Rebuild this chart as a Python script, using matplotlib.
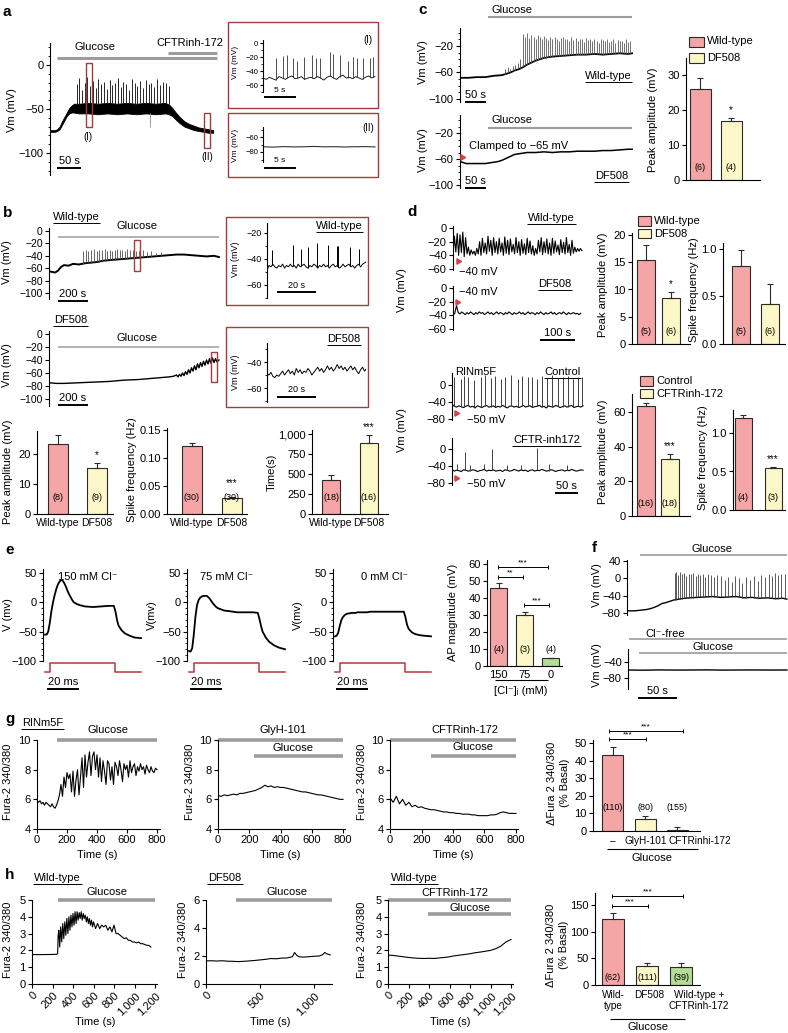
import numpy as np
import matplotlib.pyplot as plt
from matplotlib.patches import Rectangle

plt.rcParams['font.family'] = ['Liberation Sans', 'DejaVu Sans']
plt.rcParams['axes.linewidth'] = 0.8
plt.rcParams['xtick.major.width'] = 0.8
plt.rcParams['ytick.major.width'] = 0.8

W, H = 788, 1033

PINK = '#f5a5a5'
YELLOW = '#fbf7c6'
GREEN = '#b4dc96'
EDGE = '#2b2b2b'
GLU = '#9c9c9c'
BOXRED = '#a33c3c'
PULSE = '#b5383a'
ARROW = '#d04545'

# ---------------- values ----------------
# a: glucose-induced firing (s, mV), band drawn between lo/hi
a_t = [0, 10, 15, 20, 25, 30, 35, 40, 45, 50, 60, 80, 100, 120, 140, 160, 180, 200, 220, 240,
       248, 255, 262, 270, 280, 290, 300, 310, 320, 330, 340]
a_hi = [-74, -74, -73, -70, -64, -59, -54, -49, -46, -44, -44, -43, -44, -43, -44, -43, -44, -43, -44, -43,
        -45, -49, -54, -59, -64, -67, -69, -71, -72, -73, -74]
a_lo = [-76, -76, -75, -73, -68, -63, -58, -55, -54, -54, -55, -55, -56, -55, -56, -55, -56, -55, -56, -55,
        -56, -58, -62, -66, -70, -72, -74, -75, -76, -77, -77]
a_spk_t = [57, 61, 66, 72, 78, 84, 90, 96, 101, 107, 113, 119, 124, 130, 136, 142, 147, 153, 159, 165,
           171, 177, 182, 188, 194, 200, 206, 211, 217, 223, 229, 235, 241, 247]
a_spk_v = [-22, -15, -28, -20, -14, -24, -18, -26, -16, -22, -19, -27, -17, -23, -20, -15, -25, -19, -22, -28,
           -16, -21, -24, -18, -26, -17, -22, -20, -25, -16, -23, -19, -21, -24]
a_glitch = (208, -70)
# a insets (I) and (II)
i1_v = [-50, -52, -49, -51, -53, -48, -50, -52, -49, -47, -51, -50, -48, -52, -50, -49, -51, -48, -50, -53,
        -49, -47, -50, -52, -48, -46, -50, -49, -51, -48, -50, -52, -49, -47, -50, -48]
i1_spk_t = [2.0, 3.1, 3.8, 4.7, 5.3, 6.4, 7.7, 8.3, 8.9, 10.5, 10.9, 12.0, 13.3, 14.1, 14.7, 15.6, 16.7, 17.2]
i1_spk_v = [-22, -18, -17, -22, -25, -20, -17, -22, -21, -13, -15, -17, -25, -20, -22, -22, -22, -20]
i2_v = [-73, -73.5, -72.8, -73.2, -73, -72.6, -73.1, -72.9, -73.3, -73, -72.8, -73.2]

# b: wild-type and DF508 traces
bw_t = [0, 20, 40, 60, 80, 100, 130, 160, 200, 240, 280, 320, 360, 400, 450, 500, 550, 600, 650, 700,
        750, 800, 850, 900, 950, 1000, 1050, 1100, 1133]
bw_v = [-65, -66, -67, -64, -58, -55, -56, -53, -54, -52, -51, -50, -48, -47, -46, -45, -44, -43, -42, -41,
        -40, -39, -38, -38, -39, -40, -41, -40, -42]
bw_spk_t = [228, 245, 262, 280, 300, 318, 335, 352, 370, 388, 405, 420, 438, 455, 470, 488, 505, 520, 540, 560,
            580, 600, 625, 650, 680, 710, 745]
bw_spk_v = [-32, -30, -33, -31, -29, -32, -30, -31, -29, -33, -30, -32, -30, -29, -31, -30, -32, -29, -31, -30,
            -32, -33, -31, -34, -33, -35, -34]
bwi_v = [-49, -45, -46, -44, -46, -47, -45, -46, -44, -47, -45, -46, -44, -46, -45, -47, -44, -46, -45, -44,
         -46, -47, -45, -46, -44, -45, -47, -45, -46, -44, -46, -45, -47, -45, -44, -46, -45, -47, -46, -44,
         -46, -45, -44, -46, -45, -47, -45, -44, -46, -44, -43, -42]
bwi_spk_t = [2.6, 13.3, 17.4, 21.0, 25.6, 31.3, 35.9, 36.4, 42.6, 47.2]
bwi_spk_v = [-33, -29, -32, -31, -28, -29, -30, -30, -31, -32]
bd_t = [0, 50, 100, 200, 300, 400, 500, 600, 700, 750, 800, 830, 850, 860, 870, 880, 890, 900, 910, 920,
        930, 940, 950, 960, 970, 980, 990, 1000, 1010, 1020, 1030, 1040, 1050, 1060, 1070, 1080, 1090, 1100,
        1110, 1120, 1133]
bd_v = [-75, -76, -76, -75, -74, -73, -71, -70, -68, -67, -66, -65, -63, -66, -62, -65, -60, -64, -58, -62,
        -55, -60, -52, -57, -49, -55, -46, -52, -44, -50, -42, -48, -40, -46, -38, -45, -37, -44, -38, -43,
        -40]
bdi_v = [-49, -50, -48, -51, -52, -50, -51, -49, -47, -50, -48, -46, -49, -47, -50, -45, -48, -46, -49, -47,
         -48, -45, -47, -50, -48, -46, -44, -47, -45, -48, -46, -43, -46, -44, -47, -45, -42, -45, -43, -46,
         -44, -47, -45, -43, -46, -44, -47, -49, -46, -44, -47, -45]
# b: bar summaries
b_amp, b_amp_err = [23.5, 15.3], [2.7, 1.7]
b_freq, b_freq_err = [0.122, 0.029], [0.005, 0.002]
b_time, b_time_err = [420, 890], [70, 100]

# c: wild-type and clamped DF508 traces
ct_t = [0, 20, 40, 60, 80, 100, 110, 120, 130, 140, 150, 160, 170, 180, 190, 200, 220, 240, 260, 280,
        300, 320, 340, 360, 380, 400, 410]
ct_v = [-68, -68, -67, -67, -65, -64, -62, -60, -57, -55, -52, -48, -45, -42, -40, -38, -36, -35, -34, -33,
        -33, -32, -33, -32, -31, -32, -31]
ct_pre_t = [108, 114, 120, 126, 132, 138, 143]
ct_pre_v = [-55, -52, -54, -50, -48, -46, -40]
ct_spk_t = [150, 155, 160, 165, 170, 175, 180, 185, 190, 195, 200, 205, 210, 215, 220, 225, 230, 235, 240, 245,
            250, 255, 260, 265, 270, 275, 280, 285, 290, 295, 300, 305, 310, 315, 320, 325, 330, 335, 340, 345,
            350, 355, 360, 365, 370, 375, 380, 385, 390, 395, 400, 405]
ct_spk_v = [-2, -6, 0, -8, -4, -6, -10, -3, -7, -9, -5, -8, -11, -6, -9, -7, -10, -12, -8, -6,
            -10, -9, -13, -7, -11, -8, -12, -10, -9, -14, -8, -11, -10, -13, -9, -12, -15, -10, -11, -13,
            -9, -14, -12, -10, -15, -11, -13, -12, -16, -10, -14, -12]
cb_t = [0, 10, 15, 20, 40, 60, 70, 80, 90, 100, 110, 120, 130, 140, 150, 160, 180, 200, 220, 240,
        260, 280, 300, 320, 340, 360, 380, 400, 410]
cb_v = [-64, -66, -67, -67, -67, -67, -66, -65, -64, -62, -59, -56, -53, -52, -51, -50, -50, -49, -50, -49,
        -49, -48, -48, -48, -47, -47, -46, -45, -45]
c_amp, c_amp_err = [26.0, 16.8], [3.2, 1.0]

# d: traces sampled every 4 s / 5 s
dw_v = [-38, -12, -35, -8, -40, -10, -36, -6, -42, -14, -38, -28, -40, -32, -38, -34, -40, -30, -38, -20,
        -40, -15, -36, -22, -38, -12, -34, -18, -40, -14, -36, -20, -38, -15, -35, -22, -40, -13, -37, -18,
        -39, -16, -35, -24, -38, -14, -36, -20, -40, -17, -37, -23, -39, -15, -36, -19, -38, -26, -40, -30,
        -38, -18, -35, -14, -39, -20, -36, -16, -38, -22, -40, -15, -37, -19, -35, -25, -39, -17, -36, -21,
        -38, -14, -36, -24, -40, -18, -37, -28, -35, -30, -34, -30, -33]
dd_v = [-40, -37, -26, -36, -38, -35, -37, -39, -36, -38, -35, -37, -39, -36, -38, -35, -37, -36, -39, -37,
        -35, -38, -36, -39, -37, -35, -38, -36, -37, -39, -36, -38, -35, -37, -39, -36, -38, -37, -35, -38,
        -36, -39, -37, -35, -38, -36, -37, -39, -36, -38, -35, -37, -39, -36, -38, -37, -35, -38, -36, -39,
        -37, -36, -38, -35, -37, -39, -36, -38, -37, -36, -38, -37, -39, -37]
rc_v = [-45, -50, -52, -49, -51, -53, -50, -48, -52, -50, -54, -49, -51, -53, -50, -48, -52, -51, -49, -53,
        -50, -52, -48, -51, -54, -50, -49, -52, -50, -53, -51, -48, -52, -50, -49, -53, -51, -50, -48, -52,
        -50, -54, -49, -51, -52, -48, -50, -53, -51, -49, -52, -50, -48, -53, -51, -50, -52, -49]
rc_spk_t = [4, 20, 26, 35, 48, 63, 72, 85, 93, 107, 115, 128, 143, 152, 165, 174, 185, 196, 207, 217,
            230, 241, 252, 263, 274, 283]
rc_spk_v = [20, 15, 22, 18, 12, 20, 24, 16, 21, 14, 19, 23, 15, 22, 18, 20, 13, 21, 17, 24,
            16, 19, 22, 14, 20, 18]
ci_v = [-48, -52, -50, -51, -53, -49, -50, -52, -51, -49, -50, -53, -51, -50, -48, -52, -50, -51, -49, -52,
        -51, -50, -53, -49, -50, -52, -51, -48, -50, -52, -49, -51, -50, -53, -50, -49, -52, -50, -51, -48,
        -50, -52, -51, -49, -50, -53, -51, -50, -49, -52, -50, -51, -48, -50, -52, -51, -49, -50]
ci_spk_t = [10, 28, 40, 70, 87, 120, 150, 185, 210, 250]
ci_spk_v = [-35, -8, -38, -36, 0, -37, -38, 3, -36, -37]
d_amp, d_amp_err = [15.4, 8.4], [2.8, 1.2]
d_freq, d_freq_err = [0.82, 0.42], [0.17, 0.21]
d_amp2, d_amp2_err = [63.5, 33.0], [1.5, 2.5]
d_freq2, d_freq2_err = [1.20, 0.54], [0.04, 0.02]

# e: action potentials (ms, mV) and the current step
e_t = [0, 1, 2, 3, 4, 5, 6, 7, 8, 9, 10, 11, 12, 13, 14, 15, 16, 17, 18, 20,
       22, 25, 30, 35, 40, 43, 44, 45, 46, 48, 50, 53, 56, 60]
e1_v = [-55, -55, -50, -35, -15, 0, 12, 22, 30, 35, 38, 37, 33, 27, 20, 14, 9, 4, 0, -3,
        -5, -7, -8, -7, -6, -6, -15, -30, -40, -48, -53, -57, -60, -61]
e2_v = [-83, -84, -78, -55, -25, -5, 4, 8, 10, 11, 11, 11, 9, 6, 2, -2, -5, -8, -10, -12,
        -14, -15, -17, -17, -17, -18, -28, -40, -50, -60, -67, -73, -77, -80]
e3_v = [-58, -57, -52, -40, -30, -25, -22, -20, -19, -19, -18, -18, -18, -18, -17, -17, -17, -17, -17, -17,
        -16, -16, -16, -16, -16, -16, -25, -38, -45, -51, -54, -56, -57, -58]
e_pulse_t = [0, 3, 3, 44, 44, 60]
e_ap, e_ap_err = [46, 30, 4.5], [3, 2, 0.5]

# f
ft_t = [0, 10, 15, 20, 25, 30, 35, 40, 45, 50, 55, 60, 70, 80, 90, 100, 110, 120, 130, 140,
        150, 160, 170, 180, 190, 200, 205]
ft_v = [-75, -75, -74, -73, -72, -70, -67, -63, -58, -56, -53, -50, -47, -45, -44, -43, -42, -44, -43, -42,
        -45, -44, -46, -45, -47, -46, -48]
f_spk_t = [61, 63, 66, 68, 71, 73, 76, 79, 82, 85, 88, 91, 94, 97, 100, 104, 108, 112, 116, 120,
           125, 130, 134, 139, 144, 148, 153, 158, 163, 168, 172, 177, 182, 186, 190, 194, 198, 202]
f_spk_v = [12, 15, 8, 14, 10, 13, 6, 11, 9, 12, 5, 10, 8, 11, 4, 9, 7, 3, 8, 6,
           -5, 2, -8, 5, 0, -10, 4, -3, 6, -6, 8, 2, 10, 5, 12, 8, 10, 9]
fb_v = [-60, -60.5, -59.8, -60.2, -60, -59.7, -60.3, -60, -59.9, -60.1, -60]

# g: Fura-2 ratio (every 10 s for g1, 20 s for g2/g3)
g1_v = [5.9, 5.8, 5.9, 5.7, 5.8, 5.6, 5.8, 5.7, 5.6, 5.5, 5.7, 5.5, 5.4, 5.6, 5.9, 6.3, 7.0, 6.2, 7.5, 6.8,
        7.8, 7.4, 7.7, 6.5, 7.9, 6.2, 7.3, 8.0, 6.3, 7.5, 8.8, 6.8, 9.0, 7.5, 8.5, 9.2, 7.6, 8.9, 9.2, 8.0,
        9.0, 7.5, 8.8, 7.2, 8.6, 7.9, 7.0, 8.6, 8.4, 7.3, 8.2, 7.0, 8.5, 8.2, 7.6, 8.6, 8.0, 7.2, 8.4, 8.0,
        8.3, 7.5, 8.6, 7.8, 8.2, 8.4, 7.6, 8.2, 7.9, 8.4, 8.0, 8.2, 7.7, 8.3, 8.0, 7.8, 8.2, 7.9, 7.8, 8.1,
        8.0]
g2_v = [6.25, 6.2, 6.3, 6.25, 6.3, 6.35, 6.3, 6.4, 6.4, 6.45, 6.5, 6.55, 6.6, 6.7, 6.8, 6.95, 6.85, 6.9, 6.8, 6.85,
        6.8, 6.8, 6.75, 6.7, 6.65, 6.6, 6.55, 6.5, 6.5, 6.45, 6.4, 6.35, 6.3, 6.3, 6.25, 6.2, 6.15, 6.1, 6.05, 6.0,
        6.0]
g3_v = [6.1, 5.8, 6.2, 5.7, 6.0, 5.6, 5.8, 5.5, 5.6, 5.45, 5.5, 5.4, 5.35, 5.3, 5.3, 5.25, 5.2, 5.15, 5.15, 5.1,
        5.1, 5.05, 5.05, 5.0, 5.0, 5.0, 4.95, 4.95, 4.9, 4.9, 4.9, 4.9, 4.95, 4.95, 5.0, 5.1, 5.15, 5.1, 5.05, 5.05,
        5.05]
g_bar, g_bar_err = [43, 7, 0.5], [4.5, 1.5, 1.5]
g_cats = ['–', 'GlyH-101', 'CFTRinhi-172']

# h
h1_t = [0, 100, 200, 240, 250, 255, 262, 270, 280, 290, 300, 310, 320, 330, 340, 350, 360, 370, 380, 390,
        400, 410, 420, 430, 440, 450, 460, 470, 480, 490, 500, 510, 520, 530, 540, 550, 560, 570, 580, 590,
        600, 620, 640, 660, 680, 700, 720, 740, 760, 780, 800, 820, 840, 860, 880, 900, 920, 940, 960, 980,
        1000, 1020, 1040, 1060, 1080, 1100, 1120, 1140, 1160]
h1_v = [1.75, 1.75, 1.76, 1.77, 1.8, 2.9, 3.2, 2.2, 3.4, 2.5, 3.6, 2.7, 3.7, 2.9, 3.9, 3.0, 4.0, 3.2, 4.1, 3.4,
        4.2, 3.5, 4.3, 3.6, 4.3, 3.8, 4.25, 3.9, 4.3, 3.8, 4.2, 3.9, 4.1, 3.7, 4.0, 3.6, 3.9, 3.5, 3.8, 3.4,
        3.7, 3.3, 3.6, 3.3, 3.5, 3.4, 3.5, 3.2, 3.4, 3.1, 3.5, 3.0, 3.0, 2.9, 2.8, 2.7, 2.75, 2.6, 2.6, 2.5,
        2.5, 2.45, 2.5, 2.4, 2.4, 2.35, 2.3, 2.3, 2.2]
h2_t = [0, 50, 100, 150, 200, 250, 300, 350, 400, 450, 500, 550, 600, 650, 700, 750, 800, 820, 840, 860,
        900, 950, 1000, 1050, 1080, 1100, 1120, 1150]
h2_v = [1.65, 1.66, 1.64, 1.66, 1.63, 1.62, 1.6, 1.62, 1.65, 1.68, 1.72, 1.76, 1.82, 1.8, 1.85, 1.86, 1.95, 2.25,
        2.05, 1.95, 1.92, 1.95, 1.98, 2.0, 2.1, 2.25, 2.15, 2.08]
h3_v = [1.72, 1.7, 1.66, 1.62, 1.58, 1.55, 1.53, 1.52, 1.53, 1.52, 1.55, 1.58, 1.62, 1.68, 1.72, 1.76, 1.8, 1.86,
        1.9, 1.95, 2.0, 2.1, 2.25, 2.5, 2.65]
h_bar, h_bar_err = [124, 35, 34], [11, 6, 8]
h_cats = ['Wild-\ntype', 'DF508', 'Wild-type +\nCFTRinh-172']


# ---------------- helpers ----------------
def lin(p0, v0, p1, v1, p):
    # linear map from one reference pair to another
    return v0 + (p - p0) * (v1 - v0) / (p1 - p0)


def vpx(cal, v):
    # value -> pixel for a (px0, v0, px1, v1) calibration
    return lin(cal[1], cal[0], cal[3], cal[2], v)


fig = plt.figure(figsize=(W / 100, H / 100), dpi=100)


def add_ax(l, t, r, b, xcal, ycal):
    ax = fig.add_axes([l / W, 1 - b / H, (r - l) / W, (b - t) / H])
    ax.set_xlim(lin(*xcal, l), lin(*xcal, r))
    ax.set_ylim(lin(*ycal, b), lin(*ycal, t))
    ax.patch.set_visible(False)
    return ax


def trace_ax(box, xcal, ycal, ticks, minor=None, bounds=None, size=8):
    ax = add_ax(*box, xcal, ycal)
    for s in ['top', 'right', 'bottom']:
        ax.spines[s].set_visible(False)
    ax.set_xticks([])
    ax.set_yticks(ticks)
    if minor is not None:
        ax.set_yticks(minor, minor=True)
    if bounds is not None:
        ax.spines['left'].set_bounds(*bounds)
    small = size < 7
    ax.tick_params(axis='y', which='major', labelsize=size, length=2 if small else 3, pad=1.5)
    ax.tick_params(axis='y', which='minor', length=1.2 if small else 1.8, width=0.6)
    return ax


def spikes(ax, t, v, bt, bv, color='k', lw=0.6):
    ax.vlines(t, np.interp(t, bt, bv), v, colors=color, lw=lw)


def bar_ax(box, centers, ycal, yticks, vals, errs, colors, ns, width, n_px=14,
           yticklabels=None, xticklabels=None, stars=(), tsize=7.5):
    ax = add_ax(*box, (centers[0], 0, centers[1], 1), ycal)
    x = np.arange(len(vals))
    w = width / (centers[1] - centers[0])
    ax.bar(x, vals, w, color=colors, edgecolor=EDGE, linewidth=0.8, zorder=2)
    ax.errorbar(x, vals, yerr=[[0] * len(vals), errs], fmt='none', ecolor=EDGE,
                elinewidth=0.8, capsize=2.5, capthick=0.8, zorder=3)
    ny = lin(*ycal, box[3] - n_px)
    for xi, n in zip(x, ns):
        ax.text(xi, ny, n, ha='center', va='center', fontsize=6.5, zorder=4)
    for i, s in stars:
        # keep the stars clear of both the error bar and the n label
        top = min(vpx(ycal, vals[i] + errs[i]), box[3] - n_px - 6)
        ax.text(i, lin(*ycal, top - 3), s, ha='center', va='bottom', fontsize=7)
    ax.spines[['top', 'right']].set_visible(False)
    ax.set_yticks(yticks)
    if yticklabels:
        ax.set_yticklabels(yticklabels)
    ax.tick_params(axis='y', labelsize=8, length=3, pad=1.5)
    if xticklabels:
        ax.set_xticks(x, xticklabels)
        ax.tick_params(axis='x', length=0, labelsize=tsize, pad=3)
    else:
        ax.set_xticks([])
    return ax


def fura_ax(box, xcal, ycal, yticks, xticks, xlabels, rot=False):
    ax = add_ax(*box, xcal, ycal)
    ax.spines[['top', 'right']].set_visible(False)
    ax.spines['left'].set_bounds(yticks[0], yticks[-1])
    ax.set_yticks(yticks)
    ax.set_xticks(xticks, xlabels)
    ax.tick_params(labelsize=8, length=3, pad=1.5)
    if rot:
        plt.setp(ax.get_xticklabels(), rotation=45, ha='right', va='top', rotation_mode='anchor')
    return ax


def glu(ax, t0, t1, v, lw=1.2):
    ax.plot([t0, t1], [v, v], color=GLU, lw=lw, solid_capstyle='butt', clip_on=False)


# ---------------- panel a ----------------
ax = trace_ax((50, 40, 218, 180), (50, 0, 74, 50), (65, 0, 153, -100), [-100, -50, 0],
              minor=np.arange(-120, 30, 10), bounds=(-125, 25))
ax.fill_between(a_t, a_lo, a_hi, color='k', lw=0.6)
spikes(ax, a_spk_t, a_spk_v, a_t, a_hi, color='0.15', lw=0.7)
ax.vlines([a_glitch[0]], -55, a_glitch[1], colors='0.6', lw=0.7)
glu(ax, 15, 348, 8, lw=2.2)
glu(ax, 245, 348, 13.6, lw=2.2)

ax = trace_ax((263, 38, 376, 93), (263, 0, 295, 5), (43, 0, 85, -60), [-60, -40, -20, 0],
              minor=np.arange(-70, 10, 10), bounds=(-70, 4), size=5.5)
i1_t = np.linspace(0, 17.5, len(i1_v))
ax.plot(i1_t, i1_v, color='k', lw=0.6)
spikes(ax, i1_spk_t, i1_spk_v, i1_t, i1_v, color='0.2', lw=0.6)

ax = trace_ax((263, 125, 376, 165), (263, 0, 295, 5), (137, -60, 152, -80), [-80, -60],
              minor=np.arange(-90, -40, 10), bounds=(-93, -47), size=5.5)
ax.plot(np.linspace(0, 17.5, len(i2_v)), i2_v, color='0.2', lw=0.8)

# ---------------- panel b ----------------
ax = trace_ax((49, 225, 220, 298), (49, 0, 79, 200), (231, 0, 293, -100), np.arange(-100, 1, 20),
              bounds=(-110, 5), size=7.5)
ax.plot(bw_t, bw_v, color='k', lw=1.4)
spikes(ax, bw_spk_t, bw_spk_v, bw_t, bw_v, color='0.3', lw=0.6)
glu(ax, 60, 1133, -10, lw=1.1)

ax = trace_ax((267, 222, 366, 298), (267, 0, 306, 20), (233, -20, 285, -60), [-60, -40, -20],
              minor=np.arange(-70, -10, 10), bounds=(-70, -12), size=6.5)
bwi_t = np.linspace(0, 51, len(bwi_v))
ax.plot(bwi_t, bwi_v, color='k', lw=0.7)
spikes(ax, bwi_spk_t, bwi_spk_v, bwi_t, bwi_v, color='k', lw=0.7)

ax = trace_ax((49, 328, 220, 402), (49, 0, 79, 200), (334, 0, 399, -100), np.arange(-100, 1, 20),
              bounds=(-110, 5), size=7.5)
ax.plot(bd_t, bd_v, color='k', lw=1.0)
glu(ax, 60, 1133, -20, lw=1.1)

ax = trace_ax((267, 342, 366, 402), (267, 0, 306, 20), (362, -40, 388, -60), [-60, -40],
              minor=np.arange(-70, -20, 10), bounds=(-71, -25), size=6.5)
ax.plot(np.linspace(0, 51, len(bdi_v)), bdi_v, color='k', lw=0.7)

bar_ax((37, 431, 113, 514), (58, 97), (514, 0, 454, 20), [0, 10, 20], b_amp, b_amp_err,
       [PINK, YELLOW], ['(8)', '(9)'], 20, n_px=17, xticklabels=['Wild-type', 'DF508'], stars=[(1, '*')])
bar_ax((167, 428, 247, 514), (192, 232), (514, 0, 458, 0.10), [0, 0.05, 0.10, 0.15], b_freq, b_freq_err,
       [PINK, YELLOW], ['(30)', '(30)'], 20, n_px=17, yticklabels=['0.00', '0.05', '0.10', '0.15'],
       xticklabels=['Wild-type', 'DF508'], stars=[(1, '***')])
bar_ax((312, 430, 388, 514), (331, 369), (514, 0, 434, 1000), [0, 250, 500, 750, 1000], b_time, b_time_err,
       [PINK, YELLOW], ['(18)', '(16)'], 18, n_px=17, yticklabels=['0', '250', '500', '750', '1,000'],
       xticklabels=['Wild-type', 'DF508'], stars=[(1, '***')])

# ---------------- panel c ----------------
ax = trace_ax((460, 28, 633, 102), (460, 0, 481, 50), (46, -20, 99, -100), [-100, -60, -20],
              minor=np.arange(-100, 10, 10), bounds=(-104, 7), size=8)
ax.plot(ct_t, ct_v, color='k', lw=1.3)
spikes(ax, ct_pre_t, ct_pre_v, ct_t, ct_v, color='0.3', lw=0.6)
spikes(ax, ct_spk_t, ct_spk_v, ct_t, ct_v, color='0.35', lw=0.6)
glu(ax, 67, 410, 23.8, lw=1.5)

ax = trace_ax((460, 113, 633, 188), (460, 0, 481, 50), (133, -20, 185, -100), [-100, -60, -20],
              minor=np.arange(-100, 10, 10), bounds=(-104, 8), size=8)
ax.plot(cb_t, cb_v, color='k', lw=1.1)
glu(ax, 67, 410, -12.3, lw=1.5)

bar_ax((686, 58, 760, 180), (700, 731), (180, 0, 75, 30), [0, 10, 20, 30], c_amp, c_amp_err,
       [PINK, YELLOW], ['(6)', '(4)'], 21, n_px=12, stars=[(1, '*')])

# ---------------- panel d ----------------
ax = trace_ax((453, 222, 585, 272), (453, 0, 488, 100), (228, 0, 269, -60), [-60, -40, -20, 0],
              bounds=(-62, 3), size=8)
ax.plot(np.arange(len(dw_v)) * 4, dw_v, color='k', lw=0.8)
ax = trace_ax((453, 283, 585, 332), (453, 0, 488, 100), (288, 0, 329, -60), [-60, -40, -20, 0],
              bounds=(-62, 3), size=8)
ax.plot(np.arange(len(dd_v)) * 5, dd_v, color='k', lw=0.8)

bar_ax((632, 233, 690, 344), (646, 671), (344, 0, 235, 20), [0, 5, 10, 15, 20], d_amp, d_amp_err,
       [PINK, YELLOW], ['(5)', '(6)'], 18, n_px=12, stars=[(1, '*')])
bar_ax((723, 243, 785, 344), (741, 770), (344, 0, 249, 1.0), [0, 0.5, 1.0], d_freq, d_freq_err,
       [PINK, YELLOW], ['(5)', '(6)'], 18, n_px=12, yticklabels=['0.0', '0.5', '1.0'])

ax = trace_ax((452, 372, 585, 421), (452, 0, 475, 50), (385, 0, 419, -80), [-80, -40, 0],
              bounds=(-82, 28), size=8)
rc_t = np.arange(len(rc_v)) * 5
ax.plot(rc_t, rc_v, color='k', lw=0.8)
spikes(ax, rc_spk_t, rc_spk_v, rc_t, rc_v, color='0.25', lw=0.7)
ax = trace_ax((452, 437, 585, 486), (452, 0, 475, 50), (449, 0, 483, -80), [-80, -40, 0],
              bounds=(-84, 25), size=8)
ci_t = np.arange(len(ci_v)) * 5
ax.plot(ci_t, ci_v, color='k', lw=0.8)
spikes(ax, ci_spk_t, ci_spk_v, ci_t, ci_v, color='0.25', lw=0.7)

bar_ax((632, 394, 690, 516), (646, 670), (516, 0, 412, 60), [0, 20, 40, 60], d_amp2, d_amp2_err,
       [PINK, YELLOW], ['(16)', '(18)'], 18, n_px=12, stars=[(1, '***')])
bar_ax((733, 410, 785, 510), (743, 773), (510, 0, 433, 1.0), [0, 0.5, 1.0], d_freq2, d_freq2_err,
       [PINK, YELLOW], ['(4)', '(3)'], 17, n_px=12, yticklabels=['0.0', '0.5', '1.0'], stars=[(1, '***')])

# ---------------- panel e ----------------
e_ycal = (573, 50, 661, -100)
pulse_lo, pulse_hi = lin(*e_ycal, 672), lin(*e_ycal, 663)
for l, vals in [(45, e1_v), (189, e2_v), (335, e3_v)]:
    ax = trace_ax((l - 2, 566, l + 97, 675), (l, 0, l + 32, 20), e_ycal, [-100, -50, 0, 50],
                  minor=np.arange(-100, 60, 10), bounds=(-100, 57), size=8)
    ax.plot(e_t, vals, color='k', lw=1.3)
    ax.plot(e_pulse_t, [pulse_lo, pulse_lo, pulse_hi, pulse_hi, pulse_lo, pulse_lo],
            color=PULSE, lw=1.1, clip_on=False)

bar_ax((487, 560, 562, 666), (498.5, 524.5), (666, 0, 649, 10), [0, 10, 20, 30, 40, 50, 60], e_ap, e_ap_err,
       [PINK, YELLOW, GREEN], ['(4)', '(3)', '(4)'], 17, n_px=17, xticklabels=['150', '75', '0'], tsize=8)

# ---------------- panel f ----------------
ax = trace_ax((627, 558, 788, 615), (627, 0, 666, 50), (561, 40, 613, -80), [-80, -40, 0, 40],
              bounds=(-85, 43), size=8)
ax.plot(ft_t, ft_v, color='k', lw=1.0)
spikes(ax, f_spk_t, f_spk_v, ft_t, ft_v, color='0.25', lw=0.6)
glu(ax, 17, 205, 53.8, lw=1.2)

ax = trace_ax((628, 632, 788, 690), (627, 0, 666, 50), (662, -40, 678, -80), [-80, -40],
              bounds=(-108, -8), size=8)
ax.plot(np.linspace(0, 205, len(fb_v)), fb_v, color='k', lw=1.0)
glu(ax, 2.5, 205, 17.5, lw=1.2)
glu(ax, 15, 205, -17.5, lw=1.2)

# ---------------- panel g ----------------
g_ycal = (829, 4, 740, 10)
g_ticks = [0, 200, 400, 600, 800]
ax = fura_ax((37, 733, 160, 829), (37, 0, 157, 800), g_ycal, [4, 6, 8, 10], g_ticks, [str(v) for v in g_ticks])
ax.plot(np.arange(len(g1_v)) * 10, g1_v, color='k', lw=0.8)
glu(ax, 133, 800, 10, lw=2.6)
ax = fura_ax((218, 733, 345, 829), (218, 0, 343, 800), g_ycal, [4, 6, 8, 10], g_ticks, [str(v) for v in g_ticks])
ax.plot(np.arange(len(g2_v)) * 20, g2_v, color='k', lw=0.8)
glu(ax, 0, 800, 10, lw=2.6)
glu(ax, 230, 800, 8.9, lw=2.6)
ax = fura_ax((390, 733, 518, 829), (390, 0, 516, 800), g_ycal, [4, 6, 8, 10], g_ticks, [str(v) for v in g_ticks])
ax.plot(np.arange(len(g3_v)) * 20, g3_v, color='k', lw=0.8)
glu(ax, 0, 800, 10, lw=2.6)
glu(ax, 260, 800, 8.9, lw=2.6)

bar_ax((593, 740, 700, 831), (612.5, 645), (831, 0, 743, 50), [0, 10, 20, 30, 40, 50], g_bar, g_bar_err,
       [PINK, YELLOW, GREEN], ['(110)', '(80)', '(155)'], 21, n_px=23)

# ---------------- panel h ----------------
h_ticks = [0, 200, 400, 600, 800, 1000, 1200]
h_labels = ['0', '200', '400', '600', '800', '1,000', '1,200']
ax = fura_ax((32, 898, 157, 984), (32, 0, 155, 1200), (984, 0, 900, 5), [0, 1, 2, 3, 4, 5],
             h_ticks, h_labels, rot=True)
ax.plot(h1_t, h1_v, color='k', lw=0.8)
glu(ax, 250, 1200, 5, lw=2.6)
ax = fura_ax((206, 898, 332, 984), (206, 0, 314, 1000), (984, 0, 900, 6), [0, 2, 4, 6],
             [0, 500, 1000], ['0', '500', '1,000'], rot=True)
ax.plot(h2_t, h2_v, color='k', lw=0.8)
glu(ax, 280, 1167, 6, lw=2.6)
ax = fura_ax((388, 898, 513, 984), (388, 0, 511, 1200), (984, 0, 900, 5), [0, 1, 2, 3, 4, 5],
             h_ticks, h_labels, rot=True)
ax.plot(np.arange(len(h3_v)) * 50, h3_v, color='k', lw=0.8)
glu(ax, 0, 1200, 5, lw=2.6)
glu(ax, 390, 1200, 4.17, lw=2.6)

bar_ax((595, 893, 700, 985), (613, 647), (985, 0, 905, 150), [0, 50, 100, 150], h_bar, h_bar_err,
       [PINK, YELLOW, GREEN], ['(62)', '(111)', '(39)'], 22, n_px=8)

# ---------------- labels, boxes, scale bars (pixel overlay) ----------------
ov = fig.add_axes([0, 0, 1, 1])
ov.set_xlim(0, W)
ov.set_ylim(H, 0)
ov.axis('off')


def T(x, y, s, size=8, ha='center', va='center', **kw):
    ov.text(x, y, s, fontsize=size, ha=ha, va=va, **kw)


def L(xs, ys, lw=1.2, color='k'):
    ov.plot(xs, ys, color=color, lw=lw, solid_capstyle='butt')


def U(x0, x1, y, s, size=8):
    T((x0 + x1) / 2, y, s, size)
    L([x0, x1], [y + 6, y + 6], lw=0.7)


def rbox(x0, y0, x1, y1, lw=1.0):
    ov.add_patch(Rectangle((x0, y0), x1 - x0, y1 - y0, fill=False, ec=BOXRED, lw=lw))


def scale(x0, x1, y, s, size=8):
    L([x0, x1], [y, y], lw=1.4)
    T((x0 + x1) / 2, y - 7, s, size)


def bracket(x0, x1, y, s):
    L([x0, x1], [y, y], lw=0.7)
    L([x0, x0], [y - 2, y + 2], lw=0.7)
    L([x1, x1], [y - 2, y + 2], lw=0.7)
    T((x0 + x1) / 2, y - 1, s, 6, va='bottom')


def swatch(x0, y0, x1, y1, c):
    ov.add_patch(Rectangle((x0, y0), x1 - x0, y1 - y0, fc=c, ec=EDGE, lw=0.8))


def arrowhead(x, y):
    ov.plot([x], [y], marker=(3, 0, 30), color=ARROW, ms=4.5)


for s, x, y in [('a', 3, 12), ('b', 3, 213), ('c', 418, 10), ('d', 407, 212), ('e', 5, 550),
                ('f', 592, 548), ('g', 5, 719), ('h', 5, 875)]:
    T(x, y, s, 11, ha='left', fontweight='bold')

# a
T(95, 47, 'Glucose')
T(190, 43, 'CFTRinh-172')
rbox(86, 63, 92, 127)
rbox(204, 113, 210, 148)
T(88, 137, '(I)', 7)
T(207, 157, '(II)', 7)
scale(57, 81, 168, '50 s')
T(12, 110, 'Vm (mV)', rotation=90)
rbox(228, 22, 378, 108)
rbox(228, 113, 378, 177)
T(368, 40, '(I)', 7)
T(368, 128, '(II)', 7)
scale(264, 296, 97, '5 s', 6)
scale(264, 296, 168, '5 s', 6)
T(236, 62, 'Vm (mV)', 6, rotation=90)
T(236, 145, 'Vm (mV)', 6, rotation=90)

# b
U(53, 100, 217, 'Wild-type')
T(137, 226, 'Glucose')
rbox(134, 240, 140, 271)
scale(58, 88, 301, '200 s')
T(7, 262, 'Vm (mV)', rotation=90)
rbox(226, 217, 368, 305)
U(316, 363, 226, 'Wild-type')
scale(277, 316, 292, '20 s', 6.5)
T(236, 259, 'Vm (mV)', 6.5, rotation=90)
U(53, 88, 320, 'DF508')
T(137, 338, 'Glucose')
rbox(211, 352, 217, 382)
scale(58, 88, 405, '200 s')
T(7, 365, 'Vm (mV)', rotation=90)
rbox(226, 327, 368, 407)
U(327, 361, 339, 'DF508')
scale(277, 316, 397, '20 s', 6.5)
T(236, 372, 'Vm (mV)', 6.5, rotation=90)
T(8, 472, 'Peak amplitude (mV)', rotation=90)
T(132, 470, 'Spike frequency (Hz)', rotation=90)
T(272, 472, 'Time(s)', rotation=90)

# c
T(512, 10, 'Glucose')
U(585, 632, 76, 'Wild-type')
scale(465, 486, 102, '50 s')
T(423, 62, 'Vm (mV)', rotation=90)
T(512, 120, 'Glucose')
T(469, 146, 'Clamped to −65 mV', ha='left')
arrowhead(462, 157)
U(594, 629, 176, 'DF508')
scale(465, 486, 188, '50 s')
T(423, 150, 'Vm (mV)', rotation=90)
T(653, 120, 'Peak amplitude (mV)', rotation=90)
swatch(689, 37, 704, 47, PINK)
T(707, 41, 'Wild-type', ha='left')
swatch(689, 53, 704, 63, YELLOW)
T(707, 58, 'DF508', ha='left')

# d
U(527, 576, 218, 'Wild-type')
arrowhead(458, 261)
T(459, 272, '−40 mV', ha='left')
U(538, 572, 284, 'DF508')
T(459, 292, '−40 mV', ha='left')
arrowhead(457, 302)
scale(540, 575, 340, '100 s')
T(402, 290, 'Vm (mV)', rotation=90)
T(603, 285, 'Peak amplitude (mV)', rotation=90)
T(694, 290, 'Spike frequency (Hz)', rotation=90)
swatch(638, 216, 651, 226, PINK)
T(654, 221, 'Wild-type', ha='left')
swatch(638, 229, 651, 238, YELLOW)
T(654, 234, 'DF508', ha='left')
T(476, 372, 'RINm5F')
U(544, 581, 372, 'Control')
arrowhead(456, 413)
T(467, 420, '−50 mV', ha='left')
U(512, 581, 440, 'CFTR-inh172')
T(467, 484, '−50 mV', ha='left')
arrowhead(456, 478)
scale(555, 578, 493, '50 s')
T(402, 430, 'Vm (mV)', rotation=90)
T(603, 452, 'Peak amplitude (mV)', rotation=90)
T(703, 458, 'Spike frequency (Hz)', rotation=90)
swatch(640, 376, 653, 386, PINK)
T(656, 381, 'Control', ha='left')
swatch(640, 389, 653, 398, YELLOW)
T(656, 394, 'CFTRinh-172', ha='left')

# e
T(88, 577, '150 mM Cl⁻')
T(227, 577, '75 mM Cl⁻')
T(385, 577, '0 mM Cl⁻')
scale(47, 79, 689, '20 ms')
scale(190, 222, 689, '20 ms')
scale(336, 368, 689, '20 ms')
T(8, 615, 'V (mv)', rotation=90)
T(152, 615, 'V(mv)', rotation=90)
T(298, 615, 'V(mv)', rotation=90)
bracket(498, 548, 567, '***')
bracket(498, 523, 577, '**')
bracket(524, 549, 605, '***')
L([495, 548], [680, 680], lw=0.8)
T(521, 691, '[Cl⁻]ᵢ (mM)')
T(453, 612, 'AP magnitude (mV)', rotation=90)

# f
T(712, 549, 'Glucose')
T(597, 585, 'Vm (mV)', rotation=90)
T(665, 634, 'Cl⁻-free')
T(713, 647, 'Glucose')
scale(638, 677, 698, '50 s')
T(597, 665, 'Vm (mV)', rotation=90)

# g
U(21, 64, 723, 'RINm5F')
T(108, 730, 'Glucose')
T(283, 730, 'GlyH-101')
T(293, 748, 'Glucose')
T(465, 730, 'CFTRinh-172')
T(473, 747, 'Glucose')
for x in [97, 280, 453]:
    T(x, 855, 'Time (s)')
for x in [8, 190, 362]:
    T(x, 782, 'Fura-2 340/380', rotation=90)
bracket(609, 646, 739, '***')
bracket(609, 683, 731, '***')
for x, s in zip([613, 646, 700], g_cats):
    T(x, 841, s, 7.2)
L([607, 698], [849, 849], lw=0.8)
T(652, 858, 'Glucose')
T(552, 783, 'ΔFura 2 340/360', rotation=90)
T(565, 783, '(% Basal)', rotation=90)

# h
U(33, 82, 878, 'Wild-type')
T(107, 892, 'Glucose')
U(207, 243, 878, 'DF508')
T(287, 892, 'Glucose')
U(390, 438, 878, 'Wild-type')
T(455, 893, 'CFTRinh-172')
T(470, 908, 'Glucose')
for x in [95, 270, 450]:
    T(x, 1022, 'Time (s)')
for x in [8, 183, 362]:
    T(x, 940, 'Fura-2 340/380', rotation=90)
bracket(612, 648, 906, '***')
bracket(612, 683, 896, '***')
for x, s in zip([613, 649, 699], h_cats):
    T(x, 990, s, 7.2, va='top', linespacing=1.1)
L([610, 685], [1019, 1019], lw=0.8)
T(648, 1027, 'Glucose')
T(551, 945, 'ΔFura 2 340/380', rotation=90)
T(564, 945, '(% Basal)', rotation=90)

fig.savefig('out.png', dpi=100)
